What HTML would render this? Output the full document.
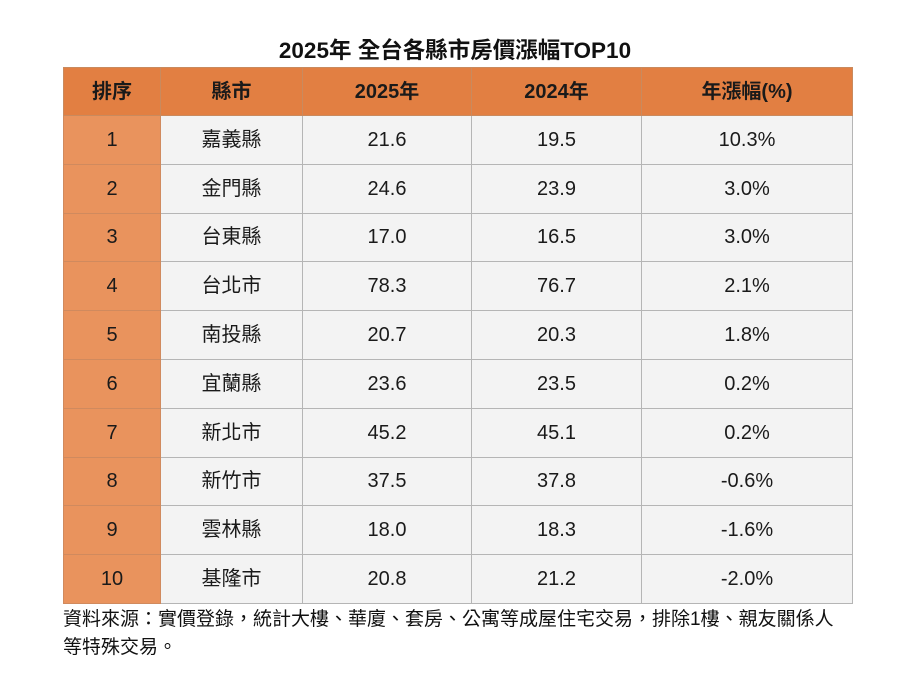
<!DOCTYPE html>
<html><head><meta charset="utf-8"><style>
body{margin:0;width:910px;height:684px;background:#fff;font-family:"Liberation Sans","Noto Sans CJK TC",sans-serif;position:relative;overflow:hidden}
.t{position:absolute;left:0;width:910px;top:33px;text-align:center;font-weight:bold;font-size:22.5px;color:#111}
table{position:absolute;left:63px;top:67px;border-collapse:collapse;table-layout:fixed}
td,th{border:1px solid #b5b5b5;text-align:center;font-size:20px;line-height:20px;color:#1a1a1a;height:47.8px;padding:0;vertical-align:middle}
th{background:#e27f42;font-weight:bold;height:47px;border-color:#c98a5e}
td{background:#f3f3f3}
td.r{background:#e9935d;border-color:#d08a5e}
.n{position:absolute;left:63px;top:606px;font-size:19px;line-height:28px;color:#111;width:840px;white-space:nowrap}
</style></head><body>
<div class="t">2025年 全台各縣市房價漲幅TOP10</div>
<table>
<colgroup><col style="width:97px"><col style="width:142px"><col style="width:169px"><col style="width:170px"><col style="width:211px"></colgroup>
<tr><th>排序</th><th>縣市</th><th>2025年</th><th>2024年</th><th>年漲幅(%)</th></tr>
<tr><td class="r">1</td><td>嘉義縣</td><td>21.6</td><td>19.5</td><td>10.3%</td></tr>
<tr><td class="r">2</td><td>金門縣</td><td>24.6</td><td>23.9</td><td>3.0%</td></tr>
<tr><td class="r">3</td><td>台東縣</td><td>17.0</td><td>16.5</td><td>3.0%</td></tr>
<tr><td class="r">4</td><td>台北市</td><td>78.3</td><td>76.7</td><td>2.1%</td></tr>
<tr><td class="r">5</td><td>南投縣</td><td>20.7</td><td>20.3</td><td>1.8%</td></tr>
<tr><td class="r">6</td><td>宜蘭縣</td><td>23.6</td><td>23.5</td><td>0.2%</td></tr>
<tr><td class="r">7</td><td>新北市</td><td>45.2</td><td>45.1</td><td>0.2%</td></tr>
<tr><td class="r">8</td><td>新竹市</td><td>37.5</td><td>37.8</td><td>-0.6%</td></tr>
<tr><td class="r">9</td><td>雲林縣</td><td>18.0</td><td>18.3</td><td>-1.6%</td></tr>
<tr><td class="r">10</td><td>基隆市</td><td>20.8</td><td>21.2</td><td>-2.0%</td></tr>
</table>
<div class="n">資料來源：實價登錄，統計大樓、華廈、套房、公寓等成屋住宅交易，排除1樓、親友關係人<br>等特殊交易。</div>
</body></html>
